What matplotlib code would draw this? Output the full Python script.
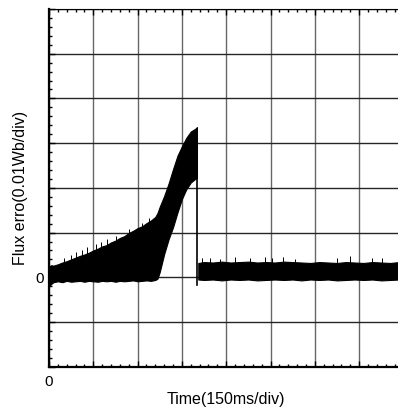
import numpy as np
import matplotlib
matplotlib.use("Agg")
import matplotlib.pyplot as plt
from matplotlib.ticker import MultipleLocator

plt.rcParams['font.family'] = ['Liberation Sans', 'DejaVu Sans']

# valores leidos en divisiones (x: 150 ms/div, y: 0.01 Wb/div)
# tramo antes de la caida: envolvente superior e inferior de la banda de ruido
x_rampa = [0.0, 0.05, 0.1, 0.2, 0.3, 0.4, 0.5, 0.6, 0.7, 0.8, 0.9, 1.0,
           1.1, 1.2, 1.3, 1.4, 1.5, 1.6, 1.7, 1.8, 1.9, 2.0, 2.1, 2.2,
           2.3, 2.4, 2.45, 2.5, 2.6, 2.7, 2.8, 2.9, 3.0, 3.1, 3.2, 3.3, 3.34]
sup_rampa = [0.24, 0.27, 0.26, 0.29, 0.33, 0.36, 0.40, 0.44, 0.48, 0.51, 0.55, 0.60,
             0.64, 0.69, 0.72, 0.78, 0.82, 0.88, 0.92, 0.99, 1.04, 1.10, 1.14, 1.21,
             1.27, 1.35, 1.44, 1.58, 1.82, 2.10, 2.42, 2.72, 2.93, 3.12, 3.26, 3.32, 3.36]
inf_rampa = [-0.20, -0.15, -0.11, -0.09, -0.11, -0.08, -0.10, -0.09, -0.08, -0.10, -0.08, -0.09,
             -0.10, -0.08, -0.09, -0.08, -0.10, -0.08, -0.09, -0.08, -0.07, -0.09, -0.08, -0.07,
             -0.08, -0.06, -0.03, 0.12, 0.52, 0.85, 1.12, 1.45, 1.75, 1.97, 2.12, 2.20, 2.22]

# picos finos sobre el borde superior de la rampa
x_picos_rampa = [0.34, 0.50, 0.61, 0.74, 0.86, 1.06, 1.17, 1.31, 1.51, 1.81, 2.10, 2.26]
y_picos_rampa = [0.43, 0.50, 0.56, 0.62, 0.67, 0.75, 0.78, 0.86, 0.93, 1.08, 1.22, 1.33]

# caida brusca
x_caida = [3.35, 3.35]
y_caida = [2.20, -0.17]

# tramo estable despues de la caida
x_estable = [3.37, 3.5, 3.7, 3.9, 4.1, 4.3, 4.5, 4.7, 4.9, 5.1, 5.3, 5.5, 5.7,
             5.9, 6.1, 6.3, 6.5, 6.7, 6.9, 7.1, 7.3, 7.5, 7.7, 7.9, 8.0]
sup_estable = [0.32, 0.34, 0.33, 0.35, 0.33, 0.34, 0.35, 0.33, 0.34, 0.33, 0.35, 0.34, 0.33,
               0.32, 0.34, 0.33, 0.32, 0.34, 0.33, 0.32, 0.34, 0.33, 0.32, 0.34, 0.33]
inf_estable = [-0.05, -0.06, -0.05, -0.07, -0.05, -0.06, -0.05, -0.07, -0.06, -0.05, -0.06, -0.05, -0.07,
               -0.05, -0.06, -0.05, -0.07, -0.06, -0.05, -0.06, -0.05, -0.07, -0.06, -0.05, -0.06]

# picos finos sobre la banda estable
x_picos_estable = [3.45, 3.63, 3.86, 4.20, 4.54, 4.88, 5.03, 5.28, 5.55, 6.50, 6.79, 7.29, 7.52]
y_picos_estable = [0.42, 0.44, 0.41, 0.45, 0.43, 0.46, 0.42, 0.45, 0.41, 0.44, 0.47, 0.43, 0.42]

fig = plt.figure(figsize=(3.98, 4.09), dpi=100)
# el eje de 8 divisiones se sale un poco por la derecha, como en la captura
ax = fig.add_axes([49 / 398, 42.3 / 409, 354.4 / 398, 357.7 / 409])

ax.fill_between(x_rampa, inf_rampa, sup_rampa, color="black", lw=0.8)
ax.vlines(x_picos_rampa, 0, y_picos_rampa, color="black", lw=0.7)
ax.plot(x_caida, y_caida, color="black", lw=1.2)
ax.fill_between(x_estable, inf_estable, sup_estable, color="black", lw=0.8)
ax.vlines(x_picos_estable, 0, y_picos_estable, color="black", lw=0.7)

ax.set_xlim(0, 8)
ax.set_ylim(-2, 6)

ax.xaxis.set_major_locator(MultipleLocator(1))
ax.yaxis.set_major_locator(MultipleLocator(1))
ax.xaxis.set_minor_locator(MultipleLocator(0.2))
ax.yaxis.set_minor_locator(MultipleLocator(0.2))
ax.xaxis.set_major_formatter(plt.FuncFormatter(lambda v, p: "0" if abs(v) < 1e-9 else ""))
ax.yaxis.set_major_formatter(plt.FuncFormatter(lambda v, p: "0" if abs(v) < 1e-9 else ""))

ax.xaxis.grid(True, which="major", color="0.4", lw=1.0)
ax.yaxis.grid(True, which="major", color="0.15", lw=1.0)
ax.set_axisbelow(True)

ax.tick_params(which="both", direction="in", top=True, right=False, colors="black")
ax.tick_params(which="major", length=4, width=1)
ax.tick_params(which="minor", length=2.5, width=1)
ax.tick_params(axis="x", pad=6, labelsize=11)
ax.tick_params(axis="y", pad=4, labelsize=11)

ax.spines["left"].set_linewidth(1.6)
ax.spines["bottom"].set_linewidth(1.6)
ax.spines["top"].set_linewidth(0.8)
ax.spines["right"].set_visible(False)

ax.set_xlabel("Time(150ms/div)", fontsize=11.5)
ax.set_ylabel("Flux erro(0.01Wb/div)", fontsize=11.5)
ax.xaxis.set_label_coords(0.5, -0.072)
ax.yaxis.set_label_coords(-0.058, 0.5)

plt.savefig("out.png", dpi=100)
